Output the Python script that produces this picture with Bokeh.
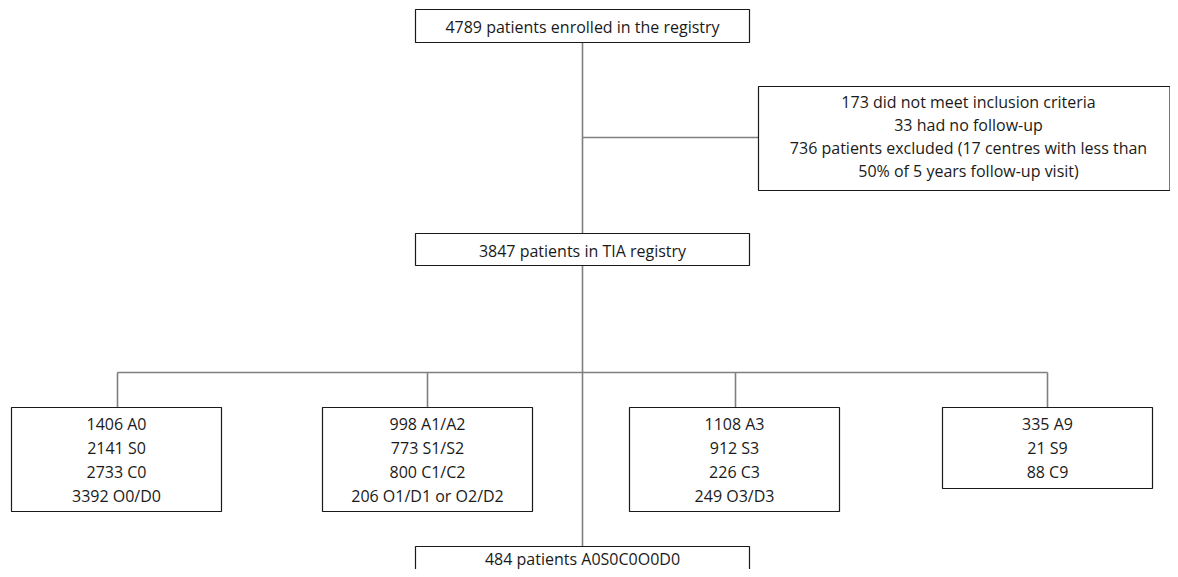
from bokeh.plotting import figure
from bokeh.models import Range1d
from bokeh.core.properties import value
from bokeh.embed import file_html
from bokeh.resources import INLINE

# ---- data ----
enrolled = 4789
not_meeting_criteria = 173
no_follow_up = 33
excluded_centres_patients = 736
excluded_centres = 17
tia_registry = 3847
final_patients = 484

group_counts_1 = [1406, 2141, 2733, 3392]
group_labels_1 = ["A0", "S0", "C0", "O0/D0"]
group_counts_2 = [998, 773, 800, 206]
group_labels_2 = ["A1/A2", "S1/S2", "C1/C2", "O1/D1 or O2/D2"]
group_counts_3 = [1108, 912, 226, 249]
group_labels_3 = ["A3", "S3", "C3", "O3/D3"]
group_counts_4 = [335, 21, 88]
group_labels_4 = ["A9", "S9", "C9"]

FONT = "Open Sans"
FS = "16px"
LINE_GRAY = "#7f7f7f"

p = figure(width=1170, height=569, output_backend="svg", toolbar_location=None,
           x_range=Range1d(0, 1170), y_range=Range1d(569, 0),
           x_axis_location=None, y_axis_location=None, min_border=0,
           background_fill_color="white", border_fill_color="white")
p.outline_line_color = None
p.grid.visible = False

# connectors
cx = 582
branch_y = 372
branch_x = [117, 427, 735, 1047]
seg_x0 = [cx, cx, cx, branch_x[0]] + branch_x
seg_y0 = [42, 137, 265, branch_y] + [branch_y] * 4
seg_x1 = [cx, 758, cx, branch_x[-1]] + branch_x
seg_y1 = [233, 137, 546, branch_y] + [407] * 4
p.segment(x0=seg_x0, y0=seg_y0, x1=seg_x1, y1=seg_y1, line_color=LINE_GRAY, line_width=1.6)

# boxes
box_l = [415, 758, 415, 11, 322, 629, 942, 415]
box_r = [749, 1169.5, 749, 221, 532, 839, 1152, 749]
box_t = [9, 86, 233, 407, 407, 407, 407, 546]
box_b = [42, 190, 265, 511, 511, 511, 488, 620]
p.quad(left=box_l, right=box_r, top=box_t, bottom=box_b, fill_color="white",
       line_color="#1a1a1a", line_width=1.2)

# texts
tx, ty, tt = [], [], []
tx.append(582); ty.append(26); tt.append(f"{enrolled} patients enrolled in the registry")
excl_lines = [
    f"{not_meeting_criteria} did not meet inclusion criteria",
    f"{no_follow_up} had no follow-up",
    f"{excluded_centres_patients} patients excluded ({excluded_centres} centres with less than",
    "50% of 5 years follow-up visit)",
]
for i, s in enumerate(excl_lines):
    tx.append(968); ty.append(101 + 23.2 * i); tt.append(s)
tx.append(582); ty.append(250); tt.append(f"{tia_registry} patients in TIA registry")

groups = [(group_counts_1, group_labels_1), (group_counts_2, group_labels_2),
          (group_counts_3, group_labels_3), (group_counts_4, group_labels_4)]
centers = [116, 427, 734, 1047]
for (counts, labels), gx in zip(groups, centers):
    for i, (c, l) in enumerate(zip(counts, labels)):
        tx.append(gx); ty.append(423 + 24.3 * i); tt.append(f"{c} {l}")
tx.append(582); ty.append(558); tt.append(f"{final_patients} patients A0S0C0O0D0")

p.text(x=tx, y=ty, text=tt, text_align="center", text_baseline="middle",
       text_font=value(FONT), text_font_size=FS, text_color="#1a1a1a")

open("out.html", "w").write(file_html(p, INLINE))
